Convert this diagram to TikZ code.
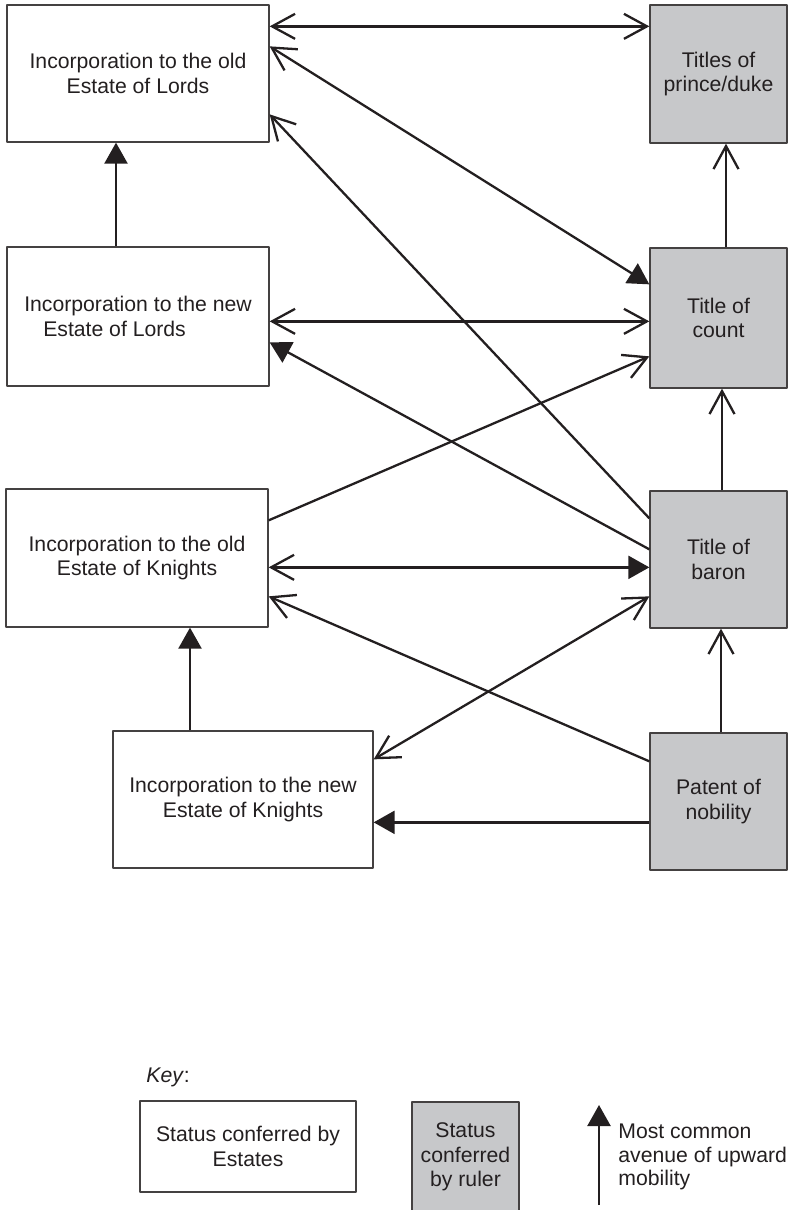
\documentclass[tikz,border=0pt]{standalone}
\usepackage{fontspec}
\setmainfont{Liberation Sans}
\usetikzlibrary{arrows.meta,calc}
\definecolor{boxgray}{RGB}{199,200,202}
\definecolor{ink}{RGB}{35,31,32}

\begin{document}
\begin{tikzpicture}[x=0.5pt,y=-0.5pt,line join=round,
	est/.style={draw=ink!85,line width=0.65pt,inner sep=0pt,align=center,text=ink,font=\fontsize{10.6}{12.2}\selectfont},
	rul/.style={est,fill=boxgray},
	openh/.tip={Straight Barb[length=11.5pt,width=12.5pt]},
	fillh/.tip={Triangle[length=10.5pt,width=11.5pt]},
	lnk/.style={draw=ink,line width=1.15pt}]
	\useasboundingbox (0,0) rectangle (794,1210);
	\node[est,minimum width=131pt,minimum height=68.5pt] (oldlords) at (138,73.5) {Incorporation to the old\\Estate of Lords};
	\node[est,minimum width=131pt,minimum height=69.5pt,align=left] (newlords) at (138,316.5) {Incorporation to the new\\\hspace*{9.5pt}Estate of Lords};
	\node[est,minimum width=131pt,minimum height=69pt] (oldknights) at (137,558) {Incorporation to the old\\Estate of Knights};
	\node[est,minimum width=130pt,minimum height=68.5pt] (newknights) at (243,799.5) {Incorporation to the new\\Estate of Knights};
	\node[rul,minimum width=68.5pt,minimum height=69pt] (princes) at (718.5,74) {Titles of\\prince/duke};
	\node[rul,minimum width=68.5pt,minimum height=70pt] (count) at (718.5,318) {Title of\\count};
	\node[rul,minimum width=68.5pt,minimum height=68.5pt] (baron) at (718.5,559.5) {Title of\\baron};
	\node[rul,minimum width=68.5pt,minimum height=68.5pt] (patent) at (718.5,801.5) {Patent of\\nobility};
	\draw[lnk,openh-openh] ($(oldlords.north east)+(0,22)$) -- ($(princes.north west)+(0,22)$);
	\draw[lnk,openh-fillh] ($(oldlords.north east)+(0,42)$) -- ($(count.north west)+(0,37)$);
	\draw[lnk,-openh] ($(baron.north west)+(0,28)$) -- ($(oldlords.north east)+(0,110)$);
	\draw[lnk,openh-openh] ($(newlords.north east)+(0,75)$) -- ($(count.north west)+(0,74)$);
	\draw[lnk,-fillh] ($(baron.north west)+(0,59)$) -- ($(newlords.north east)+(0,96)$);
	\draw[lnk,-openh] ($(oldknights.north east)+(0,32)$) -- ($(count.north west)+(0,109)$);
	\draw[lnk,openh-fillh] ($(oldknights.north east)+(0,79)$) -- ($(baron.north west)+(0,77)$);
	\draw[lnk,-openh] ($(patent.north west)+(0,29)$) -- ($(oldknights.north east)+(0,108)$);
	\draw[lnk,openh-openh] ($(newknights.north east)+(0,29)$) -- ($(baron.north west)+(0,106)$);
	\draw[lnk,-fillh] ($(patent.north west)+(0,90)$) -- ($(newknights.north east)+(0,92)$);
	\draw[lnk,-fillh] ($(newlords.north)+(-22,0)$) -- ($(oldlords.south)+(-22,0)$);
	\draw[lnk,-fillh] ($(newknights.north)+(-53,0)$) -- ($(oldknights.south)+(53,0)$);
	\draw[lnk,-openh] ($(count.north)+(7.5,0)$) -- ($(princes.south)+(7.5,0)$);
	\draw[lnk,-openh] ($(baron.north)+(3.5,0)$) -- ($(count.south)+(3.5,0)$);
	\draw[lnk,-openh] ($(patent.north)+(2.5,0)$) -- ($(baron.south)+(2.5,0)$);
	\node[anchor=west,inner sep=0pt,text=ink,font=\fontsize{10.6}{12.2}\selectfont] (key) at (146,1077) {\textit{Key}:};
	\node[est,minimum width=108pt,minimum height=45.5pt] (keyest) at (248,1146.5) {Status conferred by\\Estates};
	\node[rul,minimum width=53.5pt,minimum height=55pt] (keyrul) at (465.5,1157) {Status\\conferred\\by ruler};
	\coordinate (k0) at (599,1205);
	\coordinate (k1) at (599,1105);
	\draw[lnk,-fillh] (k0) -- (k1);
	\node[anchor=west,inner sep=0pt,align=left,text=ink,font=\fontsize{10.6}{11.8}\selectfont] (mob) at (618,1157) {Most common\\avenue of upward\\mobility};
\end{tikzpicture}
\end{document}
